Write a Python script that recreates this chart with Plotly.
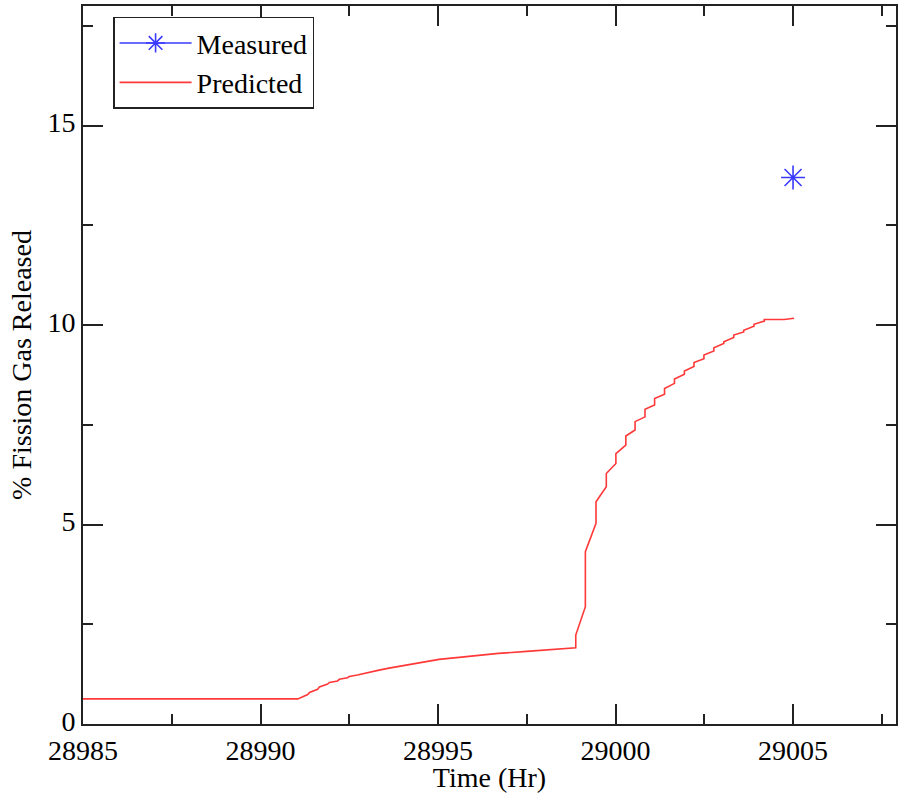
import plotly.graph_objects as go

# Predicted fission gas release history (time in hours, % released)
pred_time = [
    28985.0, 28991.05, 28991.33, 28991.38, 28991.61, 28991.66, 28991.89, 28991.94,
    28992.17, 28992.22, 28992.45, 28992.50, 28992.73, 28992.82, 28993.06, 28993.10,
    28993.34, 28993.62, 28994.0, 28994.5, 28995.03, 28995.8, 28996.7, 28997.5,
    28998.4, 28998.88, 28998.88, 28999.15, 28999.15, 28999.45, 28999.45, 28999.74,
    28999.74, 29000.01, 29000.01, 29000.29, 29000.29, 29000.55, 29000.55, 29000.83,
    29000.83, 29001.10, 29001.10, 29001.38, 29001.38, 29001.66, 29001.66, 29001.94,
    29001.94, 29002.21, 29002.21, 29002.49, 29002.49, 29002.77, 29002.77, 29003.05,
    29003.05, 29003.33, 29003.33, 29003.61, 29003.61, 29003.90, 29003.90, 29004.19,
    29004.19, 29004.75, 29005.03,
]
pred_fgr = [
    0.63, 0.63, 0.74, 0.79, 0.87, 0.93, 1.00, 1.04,
    1.08, 1.12, 1.16, 1.19, 1.23, 1.25, 1.29, 1.31,
    1.35, 1.40, 1.46, 1.54, 1.62, 1.69, 1.77, 1.82,
    1.87, 1.91, 2.23, 2.94, 4.32, 5.03, 5.57, 5.95,
    6.28, 6.53, 6.78, 6.99, 7.22, 7.37, 7.58, 7.70,
    7.89, 8.00, 8.16, 8.27, 8.41, 8.54, 8.65, 8.77,
    8.85, 8.96, 9.06, 9.16, 9.25, 9.35, 9.43, 9.54,
    9.58, 9.69, 9.75, 9.83, 9.87, 9.97, 10.02, 10.10,
    10.14, 10.14, 10.17,
]

# Measured end-of-test release
meas_time = [29005.0]
meas_fgr = [13.7]

x_tickvals = [28985, 28990, 28995, 29000, 29005]
y_tickvals = [0, 5, 10, 15]

font_family = "Liberation Serif, Times New Roman, serif"
blue = "#3a3aff"
red = "#ff3838"

fig = go.Figure()
fig.add_trace(go.Scatter(
    x=meas_time, y=meas_fgr, name="Measured",
    mode="lines+markers",
    line=dict(color=blue, width=1.5),
    marker=dict(symbol="asterisk-open", size=20,
                color=blue, line=dict(color=blue, width=1.6)),
))
fig.add_trace(go.Scatter(
    x=pred_time, y=pred_fgr, name="Predicted",
    mode="lines",
    line=dict(color=red, width=1.6),
))

axis_common = dict(
    showline=True, linecolor="#222222", linewidth=2,
    mirror="allticks", ticks="inside", ticklen=20, tickwidth=1.5,
    tickcolor="#222222", showgrid=False, zeroline=False,
    tickfont=dict(family=font_family, size=28, color="black"),
)

fig.update_xaxes(
    range=[28985, 29007.9], tickmode="array", tickvals=x_tickvals,
    ticktext=[str(v) for v in x_tickvals],
    minor=dict(ticks="inside", ticklen=10, dtick=2.5, tick0=28985,
               tickcolor="#222222", tickwidth=1.5),
    title=dict(text="Time (Hr)", standoff=0,
               font=dict(family=font_family, size=28, color="black")),
    **axis_common,
)
fig.update_yaxes(
    range=[0, 18], tickmode="array", tickvals=y_tickvals,
    ticktext=[str(v) for v in y_tickvals],
    ticklabelshift=-3,
    minor=dict(ticks="inside", ticklen=10, dtick=2.5, tick0=0,
               tickcolor="#222222", tickwidth=1.5),
    title=dict(text="% Fission Gas Released", standoff=8,
               font=dict(family=font_family, size=28, color="black")),
    **axis_common,
)

fig.update_layout(
    width=898, height=793,
    margin=dict(l=83, r=0, t=6, b=69),
    paper_bgcolor="white", plot_bgcolor="white",
    showlegend=True,
    legend=dict(
        x=0.037, y=0.985, xanchor="left", yanchor="top",
        bgcolor="white", bordercolor="#222222", borderwidth=1.5,
        font=dict(family=font_family, size=28, color="black"),
        tracegroupgap=0, itemwidth=72,
    ),
)

fig.write_html("out.html")
